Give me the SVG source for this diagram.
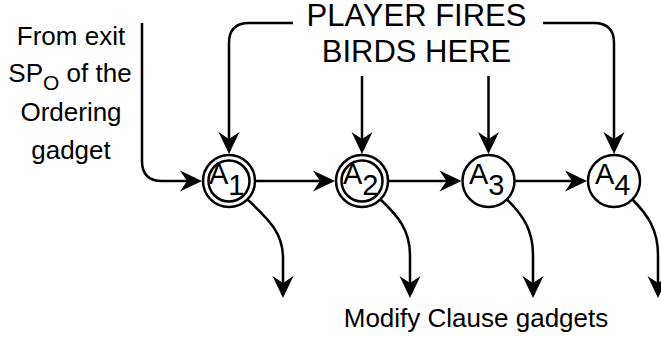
<svg xmlns="http://www.w3.org/2000/svg" width="661" height="339" viewBox="0 0 661 339">
<style>
  .t { font-family: "Liberation Sans", Arial, sans-serif; fill: #000; }
  .lbl { font-size: 26px; }
  .big { font-size: 31px; }
  .av { font-size: 29px; }
  .ring { fill: #fff; stroke: #000; stroke-width: 2.5; }
  .edge { fill: none; stroke: #000; stroke-width: 2.5; marker-end: url(#ah); }
</style>
<defs>
  <marker id="ah" viewBox="-15 -11 24 22" refX="0" refY="0" markerWidth="24" markerHeight="22" markerUnits="userSpaceOnUse" orient="auto">
    <path d="M8,0 L-14,-10.5 L-7,0 L-14,10.5 Z" fill="#000"/>
  </marker>
</defs>
<rect width="661" height="339" fill="#fff"/>

<g id="connectors">
  <path class="edge" d="M142,23 L142,161 Q142,181 162,181 L194,181"/>
  <path class="edge" d="M293,23 L249,23 Q229,23 229,43 L229,146"/>
  <path class="edge" d="M362,76 L362,146"/>
  <path class="edge" d="M488.5,76 L488.5,146"/>
  <path class="edge" d="M543,23 L594,23 Q614,23 614,43 L614,146"/>
  <path class="edge" d="M256,181 L327,181"/>
  <path class="edge" d="M389,181 L453.5,181"/>
  <path class="edge" d="M515.5,181 L579,181"/>
  <path class="edge" d="M247,199 C268,219 283,232 283,258 L283,290"/>
  <path class="edge" d="M380,199 C398,216 410,230 410,255 L410,290"/>
  <path class="edge" d="M506.5,199 C523,215 533,230 533,255 L533,290"/>
  <path class="edge" d="M632,199 C648,215 658,230 658,255 L658,290"/>
</g>

<g id="state-A1">
  <circle class="ring" cx="229" cy="181" r="26"/>
  <circle class="ring" cx="229" cy="181" r="20.5"/>
  <text class="t av" x="209" y="184">A<tspan dy="11">1</tspan></text>
</g>
<g id="state-A2">
  <circle class="ring" cx="362" cy="181" r="26"/>
  <circle class="ring" cx="362" cy="181" r="20.5"/>
  <text class="t av" x="343" y="184">A<tspan dy="11">2</tspan></text>
</g>
<g id="state-A3">
  <circle class="ring" cx="488.5" cy="181" r="26"/>
  <text class="t av" x="469" y="184">A<tspan dy="11">3</tspan></text>
</g>
<g id="state-A4">
  <circle class="ring" cx="614" cy="181" r="26"/>
  <text class="t av" x="595" y="184">A<tspan dy="11">4</tspan></text>
</g>

<g id="label-player">
  <text class="t big" x="416.5" y="26" text-anchor="middle">PLAYER FIRES</text>
  <text class="t big" x="416.5" y="62" text-anchor="middle">BIRDS HERE</text>
</g>
<g id="label-from">
  <text class="t lbl" x="71" y="45" text-anchor="middle">From exit</text>
  <text class="t lbl" x="70" y="82" text-anchor="middle">SP<tspan dy="7.5" style="font-size:21px">O</tspan><tspan dy="-7.5"> of the</tspan></text>
  <text class="t lbl" x="71" y="121" text-anchor="middle">Ordering</text>
  <text class="t lbl" x="71" y="159" text-anchor="middle">gadget</text>
</g>
<g id="label-modify">
  <text class="t lbl" x="476" y="327" text-anchor="middle">Modify Clause gadgets</text>
</g>
</svg>
